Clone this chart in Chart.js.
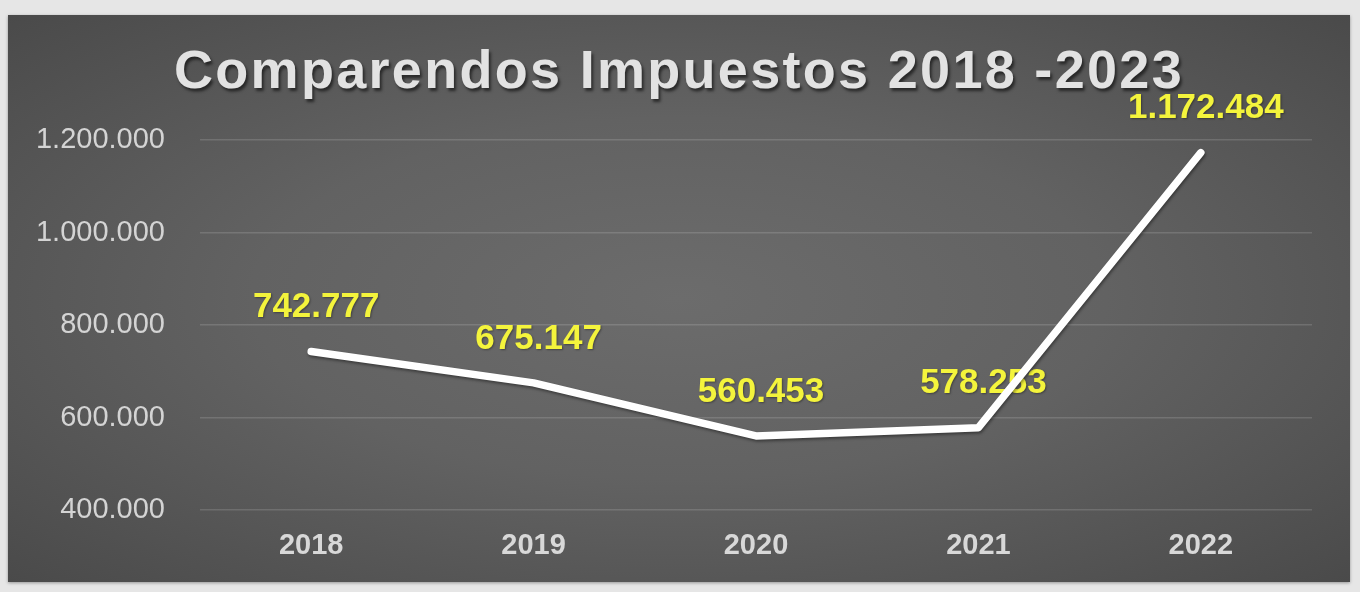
<!DOCTYPE html>
<html>
<head>
<meta charset="utf-8">
<script src="https://cdn.jsdelivr.net/npm/chart.js@4/dist/chart.umd.min.js"></script>
<style>
    html, body {
        margin: 0;
        padding: 0;
        width: 1360px;
        height: 592px;
        background: #e6e6e6;
        overflow: hidden;
    }
    #panel {
        position: absolute;
        left: 8px;
        top: 15px;
        width: 1342px;
        height: 567px;
        background: radial-gradient(ellipse at 50% 50%, #6c6c6c 0%, #626262 45%, #4a4a4a 100%);
        box-shadow: 0 1px 3px rgba(0, 0, 0, 0.35);
    }
</style>
</head>
<body>
<div id="panel">
    <canvas id="comparendos"></canvas>
</div>
<script>
    const years = ['2018', '2019', '2020', '2021', '2022'];
    const comparendos = [742777, 675147, 560453, 578253, 1172484];
    const yTicks = [400000, 600000, 800000, 1000000, 1200000];
    const chartTitle = 'Comparendos Impuestos 2018 -2023';

    // 1200000 -> 1.200.000
    let puntos = n => String(Math.round(n)).replace(/\B(?=(\d{3})+(?!\d))/g, '.');

    // title with letter spacing and shadow
    const titlePlugin = {
        id: 'titleDraw',
        afterDraw: chart => {
            let ctx = chart.ctx;
            ctx.save();
            ctx.font = 'bold 54px "Liberation Sans", Arial, sans-serif';
            ctx.letterSpacing = '2.3px';
            ctx.textAlign = 'center';
            ctx.textBaseline = 'alphabetic';
            ctx.shadowColor = 'rgba(0, 0, 0, 0.55)';
            ctx.shadowOffsetX = 2;
            ctx.shadowOffsetY = 3;
            ctx.shadowBlur = 3;
            ctx.fillStyle = '#e2e2e2';
            ctx.fillText(chartTitle, chart.width / 2, 73);
            ctx.restore();
        }
    };

    // yellow value labels, drawn under the line
    const valueLabels = {
        id: 'valueLabels',
        beforeDatasetsDraw: chart => {
            let ctx = chart.ctx;
            let meta = chart.getDatasetMeta(0);
            ctx.save();
            ctx.font = 'bold 35px "Liberation Sans", Arial, sans-serif';
            ctx.textAlign = 'center';
            ctx.textBaseline = 'middle';
            ctx.shadowColor = 'rgba(0, 0, 0, 0.35)';
            ctx.shadowOffsetX = 1;
            ctx.shadowOffsetY = 1;
            ctx.shadowBlur = 2;
            ctx.fillStyle = '#f4f43c';
            meta.data.forEach((pt, i) => {
                ctx.fillText(puntos(comparendos[i]), pt.x + 5, pt.y - 44);
            });
            ctx.restore();
        },
        beforeDatasetDraw: chart => {
            let ctx = chart.ctx;
            ctx.save();
            ctx.shadowColor = 'rgba(0, 0, 0, 0.4)';
            ctx.shadowOffsetX = 1;
            ctx.shadowOffsetY = 2;
            ctx.shadowBlur = 3;
        },
        afterDatasetDraw: chart => {
            chart.ctx.restore();
        }
    };

    var ctx = document.getElementById('comparendos').getContext('2d');
    var comparendosChart = new Chart(ctx, {
        type: 'line',
        data: {
            labels: years,
            datasets: [{
                data: comparendos,
                borderColor: '#ffffff',
                borderWidth: 7.5,
                borderCapStyle: 'round',
                borderJoinStyle: 'round',
                pointRadius: 0,
                pointHoverRadius: 0,
                tension: 0,
                fill: false
            }]
        },
        options: {
            responsive: true,
            maintainAspectRatio: false,
            animation: false,
            layout: {
                padding: {
                    top: 125,
                    right: 38,
                    bottom: 1,
                    left: 0
                }
            },
            plugins: {
                legend: {
                    display: false
                },
                title: {
                    display: false
                },
                tooltip: {
                    enabled: false
                }
            },
            scales: {
                x: {
                    offset: true,
                    grid: {
                        display: false,
                        drawTicks: false
                    },
                    border: {
                        display: false
                    },
                    ticks: {
                        color: '#d8d8d8',
                        padding: 18,
                        font: {
                            family: '"Liberation Sans", Arial, sans-serif',
                            size: 29,
                            weight: 'bold'
                        }
                    }
                },
                y: {
                    min: yTicks[0],
                    max: yTicks[yTicks.length - 1],
                    afterFit: scale => {
                        scale.width = 192;
                    },
                    afterBuildTicks: scale => {
                        scale.ticks = yTicks.map(v => ({ value: v }));
                    },
                    grid: {
                        color: 'rgba(255, 255, 255, 0.14)',
                        lineWidth: 1.5,
                        drawTicks: false
                    },
                    border: {
                        display: false
                    },
                    ticks: {
                        color: '#d4d4d4',
                        padding: 35,
                        font: {
                            family: '"Liberation Sans", Arial, sans-serif',
                            size: 29
                        },
                        callback: value => puntos(value)
                    }
                }
            }
        },
        plugins: [valueLabels, titlePlugin]
    });
</script>
</body>
</html>
